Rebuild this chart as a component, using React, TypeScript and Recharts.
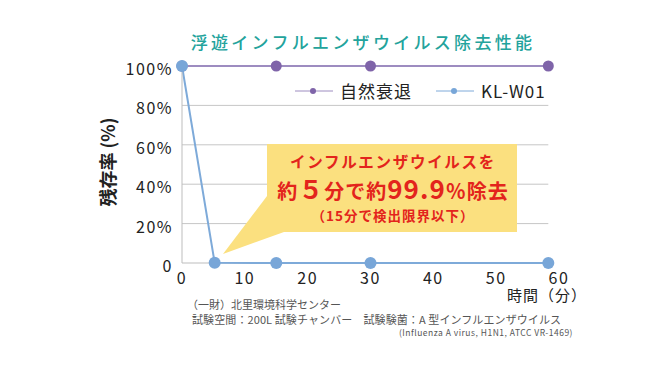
import { LineChart, Line, XAxis, YAxis, ReferenceLine } from "recharts";

const FONT = '"Noto Sans CJK JP", "Noto Sans", sans-serif';

const natural = [
  { t: 0, v: 100 },
  { t: 15, v: 100 },
  { t: 30, v: 100 },
  { t: 58.3, v: 100 },
];
const klw01 = [
  { t: 0, v: 100 },
  { t: 5.2, v: 0.1 },
  { t: 15, v: 0 },
  { t: 30, v: 0 },
  { t: 58.3, v: 0 },
];
const seriesNames = ["自然衰退", "KL-W01"];
const xTicks = [0, 10, 20, 30, 40, 50, 60];
const yTicks = [0, 20, 40, 60, 80, 100];
const gridLevels = [20, 40, 60, 80];
const lastT = 58.3;

const PURPLE_LINE = "#9d8cc0";
const PURPLE_DOT = "#7f64a9";
const BLUE_LINE = "#7eaad9";
const BLUE_DOT = "#78a6d8";
const RED = "#e3241c";

const legendItems = [
  { name: seriesNames[0], line: PURPLE_LINE, dot: PURPLE_DOT },
  { name: seriesNames[1], line: BLUE_LINE, dot: BLUE_DOT },
];

function YTick({ x, y, payload }: any) {
  const v = payload.value;
  return (
    <text x={x} y={y + 2} textAnchor="end" dominantBaseline="central" fontSize={16} fill="#222" letterSpacing={1.5} fontFamily={FONT}>
      {v === 0 ? "0" : `${v}%`}
    </text>
  );
}

function XTick({ x, y, payload }: any) {
  return (
    <text x={x} y={y + 12} textAnchor="middle" dominantBaseline="central" fontSize={16} fill="#222" letterSpacing={1.5} fontFamily={FONT}>
      {payload.value}
    </text>
  );
}

export default function App() {
  return (
    <div style={{ position: "absolute", left: 0, top: 0, width: 660, height: 370, background: "#fff", fontFamily: FONT }}>
      <div style={{ position: "absolute", left: 0, top: 30, width: 726, textAlign: "center", fontSize: 17, fontWeight: 500, color: "#23a39c", letterSpacing: 3.3, lineHeight: "24px" }}>
        浮遊インフルエンザウイルス除去性能
      </div>
      <LineChart width={660} height={370} margin={{ top: 66, right: 101, bottom: 77, left: 0 }}>
        <XAxis
          dataKey="t"
          type="number"
          domain={[0, 60]}
          ticks={xTicks}
          tick={<XTick />}
          tickSize={0}
          tickLine={false}
          axisLine={false}
          height={30}
          allowDuplicatedCategory={false}
        />
        <YAxis
          type="number"
          domain={[0, 100]}
          ticks={yTicks}
          tick={<YTick />}
          tickSize={0}
          tickMargin={9}
          tickLine={false}
          axisLine={{ stroke: "#bdbdbd" }}
          width={182}
        />
        {gridLevels.map((g) => (
          <ReferenceLine key={g} segment={[{ x: 0, y: g }, { x: lastT, y: g }]} stroke="#c6c6c6" strokeWidth={1} />
        ))}
        <ReferenceLine segment={[{ x: 0, y: 0 }, { x: lastT, y: 0 }]} stroke="#bdbdbd" strokeWidth={1} />
        <Line
          data={natural}
          dataKey="v"
          name={seriesNames[0]}
          stroke={PURPLE_LINE}
          strokeWidth={2}
          dot={{ r: 5.5, fill: PURPLE_DOT, stroke: PURPLE_DOT, strokeWidth: 0 }}
          isAnimationActive={false}
        />
        <Line
          data={klw01}
          dataKey="v"
          name={seriesNames[1]}
          stroke={BLUE_LINE}
          strokeWidth={2}
          dot={{ r: 6, fill: BLUE_DOT, stroke: BLUE_DOT, strokeWidth: 0 }}
          isAnimationActive={false}
        />
      </LineChart>
      <div style={{ position: "absolute", left: 295, top: 80, display: "flex", alignItems: "center", fontSize: 17, color: "#222", letterSpacing: 1, lineHeight: "22px" }}>
        {legendItems.map((p, i) => (
          <div key={p.name} style={{ display: "flex", alignItems: "center", marginLeft: i ? 24 : 0 }}>
            <svg width={38} height={10} style={{ marginRight: 7 }}>
              <line x1={0} y1={5} x2={38} y2={5} stroke={p.line} strokeWidth={1} />
              <circle cx={18} cy={5} r={3} fill={p.dot} />
            </svg>
            <span>{p.name}</span>
          </div>
        ))}
      </div>
      <svg width={660} height={370} style={{ position: "absolute", left: 0, top: 0, pointerEvents: "none" }}>
        <polygon points="267,196 223,254 284,232" fill="#fbe07f" />
        <rect x={267} y={144} width={250} height={88} fill="#fbe07f" />
        <g fontFamily={FONT} fill={RED} textAnchor="middle">
          <text x={393} y={168} fontSize={15.5} fontWeight={700} letterSpacing={1.7}>インフルエンザウイルスを</text>
          <text x={393} y={199} fontSize={20} fontWeight={700} letterSpacing={1}>
            約<tspan fontSize={25}>５</tspan>分で約<tspan fontSize={26}>99.9</tspan>％除去
          </text>
          <text x={393} y={221} fontSize={13.5} fontWeight={700} letterSpacing={1}>（15分で検出限界以下）</text>
        </g>
        <g fontFamily={FONT} fill="#555">
          <text x={507} y={301} fontSize={15} fill="#222" letterSpacing={1}>時間（分）</text>
          <text x={187} y={309} fontSize={11}>（一財）北里環境科学センター</text>
          <text x={192} y={324} fontSize={11} letterSpacing={0.1}>試験空間：200L 試験チャンバー　試験験菌：A 型インフルエンザウイルス</text>
          <text x={573} y={336} fontSize={8.5} textAnchor="end" letterSpacing={0.5}>(Influenza A virus, H1N1, ATCC VR-1469)</text>
        </g>
        <text x={0} y={0} transform="translate(115,162) rotate(-90)" textAnchor="middle" fontFamily={FONT} fontSize={18} fontWeight={700} fill="#222">
          残存率 (%)
        </text>
      </svg>
    </div>
  );
}
